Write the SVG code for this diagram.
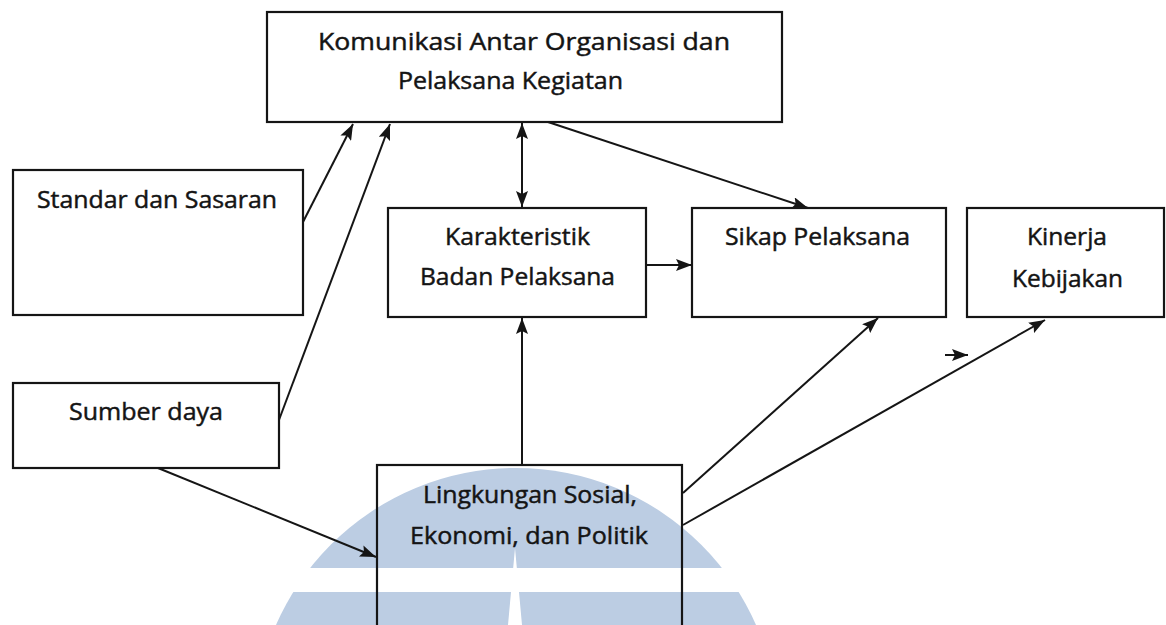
<svg xmlns="http://www.w3.org/2000/svg" width="1166" height="625" viewBox="0 0 1166 625">
  <style>
    .box { fill: #ffffff; stroke: #151515; stroke-width: 2.2; }
    .open { fill: none; stroke: #151515; stroke-width: 2.2; }
    .lbl { font-family: "Open Sans", "Liberation Sans", sans-serif; font-size: 23px; fill: #141414; stroke: #141414; stroke-width: 0.45; }
    .con line { stroke: #151515; stroke-width: 2; fill: none; }
    .wm { fill: #bccde3; }
  </style>
  <defs>
    <marker id="ah" viewBox="0 0 16 12" refX="16" refY="6" markerWidth="16" markerHeight="12" orient="auto-start-reverse" markerUnits="userSpaceOnUse">
      <path d="M0,0 L16,6 L0,12 L3,6 z" fill="#151515"/>
    </marker>
    <clipPath id="wmclip">
      <circle cx="516" cy="730" r="262"/>
    </clipPath>
  </defs>
  <rect x="0" y="0" width="1166" height="625" fill="#ffffff"/>

  <g id="watermark">
    <g clip-path="url(#wmclip)">
      <rect class="wm" x="250" y="460" width="530" height="108"/>
      <rect class="wm" x="250" y="592" width="530" height="40"/>
    </g>
    <polygon points="515,548 522,625 508,625" fill="#ffffff"/>
  </g>

  <g id="node-komunikasi">
    <rect class="box" x="267" y="12" width="515" height="110"/>
    <text class="lbl" x="318" y="50" textLength="412" lengthAdjust="spacingAndGlyphs">Komunikasi Antar Organisasi dan</text>
    <text class="lbl" x="398" y="89" textLength="225" lengthAdjust="spacingAndGlyphs">Pelaksana Kegiatan</text>
  </g>

  <g id="node-standar">
    <rect class="box" x="13" y="170" width="290" height="145"/>
    <text class="lbl" x="37" y="208" textLength="240" lengthAdjust="spacingAndGlyphs">Standar dan Sasaran</text>
  </g>

  <g id="node-karakteristik">
    <rect class="box" x="388" y="208" width="258" height="109"/>
    <text class="lbl" x="445" y="245" textLength="145" lengthAdjust="spacingAndGlyphs">Karakteristik</text>
    <text class="lbl" x="420" y="285" textLength="195" lengthAdjust="spacingAndGlyphs">Badan Pelaksana</text>
  </g>

  <g id="node-sikap">
    <rect class="box" x="692" y="208" width="254" height="109"/>
    <text class="lbl" x="725" y="245" textLength="185" lengthAdjust="spacingAndGlyphs">Sikap Pelaksana</text>
  </g>

  <g id="node-kinerja">
    <rect class="box" x="967" y="208" width="197" height="109"/>
    <text class="lbl" x="1027" y="245" textLength="80" lengthAdjust="spacingAndGlyphs">Kinerja</text>
    <text class="lbl" x="1012" y="287" textLength="111" lengthAdjust="spacingAndGlyphs">Kebijakan</text>
  </g>

  <g id="node-sumber">
    <rect class="box" x="13" y="383" width="266" height="85"/>
    <text class="lbl" x="69" y="420" textLength="154" lengthAdjust="spacingAndGlyphs">Sumber daya</text>
  </g>

  <g id="node-lingkungan">
    <rect class="open" x="377" y="465" width="305" height="180"/>
    <text class="lbl" x="423" y="503" textLength="214" lengthAdjust="spacingAndGlyphs">Lingkungan Sosial,</text>
    <text class="lbl" x="410" y="544" textLength="238" lengthAdjust="spacingAndGlyphs">Ekonomi, dan Politik</text>
  </g>

  <g id="connectors" class="con">
    <line x1="303" y1="222" x2="353" y2="124" marker-end="url(#ah)"/>
    <line x1="279" y1="420" x2="390" y2="124" marker-end="url(#ah)"/>
    <line x1="522" y1="123" x2="522" y2="207" marker-start="url(#ah)" marker-end="url(#ah)"/>
    <line x1="548" y1="122" x2="808" y2="208" marker-end="url(#ah)"/>
    <line x1="646" y1="265" x2="692" y2="265" marker-end="url(#ah)"/>
    <line x1="522" y1="465" x2="522" y2="318" marker-end="url(#ah)"/>
    <line x1="683" y1="493" x2="878" y2="318" marker-end="url(#ah)"/>
    <line x1="683" y1="525" x2="1045" y2="320" marker-end="url(#ah)"/>
    <line x1="945" y1="355" x2="968" y2="355" marker-end="url(#ah)"/>
    <line x1="158" y1="468" x2="376" y2="557" marker-end="url(#ah)"/>
  </g>
</svg>
